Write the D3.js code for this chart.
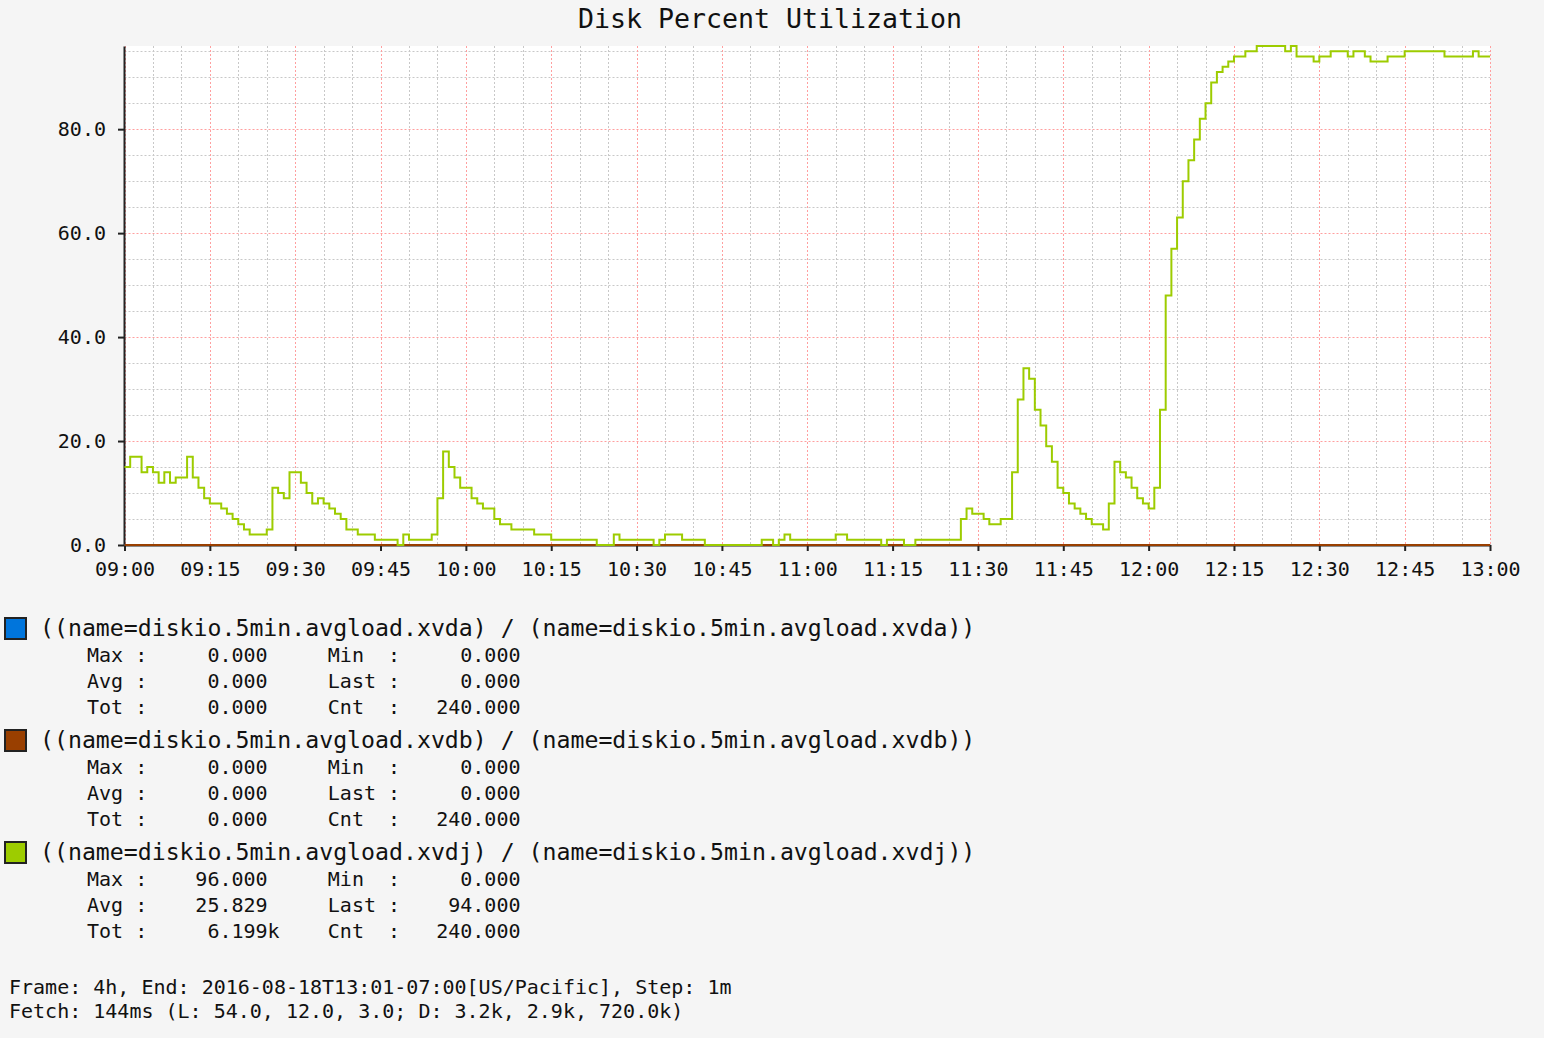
<!DOCTYPE html>
<html><head><meta charset="utf-8">
<script src="https://cdn.jsdelivr.net/npm/d3@7"></script>
<style>
html,body{margin:0;padding:0;background:#f5f5f5;}
svg{display:block;}
text{font-family:"DejaVu Sans Mono",monospace;fill:#111;white-space:pre;}
</style></head><body>
<svg id="chart" width="1544" height="1038"></svg>
<script>
// ---------------- data ----------------
const chartTitle = "Disk Percent Utilization";
const startTime = new Date(2016, 7, 18, 9, 0);
const endTime = new Date(2016, 7, 18, 13, 0);
const stepMinutes = 1;
const yTickValues = [0, 20, 40, 60, 80];
const yDomainMax = 96;

const seriesNames = [
  "((name=diskio.5min.avgload.xvda) / (name=diskio.5min.avgload.xvda))",
  "((name=diskio.5min.avgload.xvdb) / (name=diskio.5min.avgload.xvdb))",
  "((name=diskio.5min.avgload.xvdj) / (name=diskio.5min.avgload.xvdj))"
];
const seriesColors = ["#0075DC", "#993F00", "#9DCC00"];

const xvda = [
  0,0,0,0,0,0,0,0,0,0,0,0,0,0,0,0,0,0,0,0,0,0,0,0,
  0,0,0,0,0,0,0,0,0,0,0,0,0,0,0,0,0,0,0,0,0,0,0,0,
  0,0,0,0,0,0,0,0,0,0,0,0,0,0,0,0,0,0,0,0,0,0,0,0,
  0,0,0,0,0,0,0,0,0,0,0,0,0,0,0,0,0,0,0,0,0,0,0,0,
  0,0,0,0,0,0,0,0,0,0,0,0,0,0,0,0,0,0,0,0,0,0,0,0,
  0,0,0,0,0,0,0,0,0,0,0,0,0,0,0,0,0,0,0,0,0,0,0,0,
  0,0,0,0,0,0,0,0,0,0,0,0,0,0,0,0,0,0,0,0,0,0,0,0,
  0,0,0,0,0,0,0,0,0,0,0,0,0,0,0,0,0,0,0,0,0,0,0,0,
  0,0,0,0,0,0,0,0,0,0,0,0,0,0,0,0,0,0,0,0,0,0,0,0,
  0,0,0,0,0,0,0,0,0,0,0,0,0,0,0,0,0,0,0,0,0,0,0,0
];
const xvdb = [
  0,0,0,0,0,0,0,0,0,0,0,0,0,0,0,0,0,0,0,0,0,0,0,0,
  0,0,0,0,0,0,0,0,0,0,0,0,0,0,0,0,0,0,0,0,0,0,0,0,
  0,0,0,0,0,0,0,0,0,0,0,0,0,0,0,0,0,0,0,0,0,0,0,0,
  0,0,0,0,0,0,0,0,0,0,0,0,0,0,0,0,0,0,0,0,0,0,0,0,
  0,0,0,0,0,0,0,0,0,0,0,0,0,0,0,0,0,0,0,0,0,0,0,0,
  0,0,0,0,0,0,0,0,0,0,0,0,0,0,0,0,0,0,0,0,0,0,0,0,
  0,0,0,0,0,0,0,0,0,0,0,0,0,0,0,0,0,0,0,0,0,0,0,0,
  0,0,0,0,0,0,0,0,0,0,0,0,0,0,0,0,0,0,0,0,0,0,0,0,
  0,0,0,0,0,0,0,0,0,0,0,0,0,0,0,0,0,0,0,0,0,0,0,0,
  0,0,0,0,0,0,0,0,0,0,0,0,0,0,0,0,0,0,0,0,0,0,0,0
];
const xvdj = [
  15,17,17,14,15,14,12,14,12,13,
  13,17,13,11,9,8,8,7,6,5,
  4,3,2,2,2,3,11,10,9,14,
  14,12,10,8,9,8,7,6,5,3,
  3,2,2,2,1,1,1,1,0,2,
  1,1,1,1,2,9,18,15,13,11,
  11,9,8,7,7,5,4,4,3,3,
  3,3,2,2,2,1,1,1,1,1,
  1,1,1,0,0,0,2,1,1,1,
  1,1,1,0,1,2,2,2,1,1,
  1,1,0,0,0,0,0,0,0,0,
  0,0,1,1,0,1,2,1,1,1,
  1,1,1,1,1,2,2,1,1,1,
  1,1,1,0,1,1,1,0,0,1,
  1,1,1,1,1,1,1,5,7,6,
  6,5,4,4,5,5,14,28,34,32,
  26,23,19,16,11,10,8,7,6,5,
  4,4,3,8,16,14,13,11,9,8,
  7,11,26,48,57,63,70,74,78,82,
  85,89,91,92,93,94,94,95,95,96,
  96,96,96,96,95,96,94,94,94,93,
  94,94,95,95,95,94,95,95,94,93,
  93,93,94,94,94,95,95,95,95,95,
  95,95,94,94,94,94,94,95,94,94
];
const seriesValues = [xvda, xvdb, xvdj];

const statMax  = ["0.000", "0.000", "96.000"];
const statMin  = ["0.000", "0.000", "0.000"];
const statAvg  = ["0.000", "0.000", "25.829"];
const statLast = ["0.000", "0.000", "94.000"];
const statTot  = ["0.000", "0.000", "6.199k"];
const statCnt  = ["240.000", "240.000", "240.000"];

const footerLines = [
  "Frame: 4h, End: 2016-08-18T13:01-07:00[US/Pacific], Step: 1m",
  "Fetch: 144ms (L: 54.0, 12.0, 3.0; D: 3.2k, 2.9k, 720.0k)"
];

// ---------------- drawing ----------------
const svg = d3.select("#chart");
const W = 1544, H = 1038;
const plot = {left: 124.5, right: 1490, top: 46, bottom: 545};

svg.append("rect").attr("width", W).attr("height", H).attr("fill", "#f5f5f5");

const x = d3.scaleTime().domain([startTime, endTime]).range([plot.left, plot.right]);
const y = d3.scaleLinear().domain([0, yDomainMax]).range([plot.bottom, plot.top]);

svg.append("rect")
  .attr("x", plot.left).attr("y", plot.top)
  .attr("width", plot.right - plot.left).attr("height", plot.bottom - plot.top)
  .attr("fill", "#ffffff");

// title
svg.append("text")
  .attr("x", 770).attr("y", 28)
  .attr("text-anchor", "middle")
  .attr("font-size", 26)
  .attr("textLength", 384).attr("lengthAdjust", "spacingAndGlyphs")
  .text(chartTitle);

// grid
const grid = svg.append("g");
const minorX = d3.timeMinute.every(5).range(startTime, d3.timeMinute.offset(endTime, 1))
  .filter(d => d.getMinutes() % 15 !== 0);
const majorX = d3.timeMinute.every(15).range(startTime, d3.timeMinute.offset(endTime, 1));
const minorY = y.ticks(96 / 5).filter(v => v % 20 !== 0 && v > 0);
const majorY = yTickValues.filter(v => v > 0);

grid.selectAll("line.mx").data(minorX).join("line")
  .attr("x1", d => Math.round(x(d)) + 0.5).attr("x2", d => Math.round(x(d)) + 0.5)
  .attr("y1", plot.top).attr("y2", plot.bottom)
  .attr("stroke", "#c8c8c8").attr("stroke-width", 1).attr("stroke-dasharray", "2,2");
grid.selectAll("line.my").data(minorY).join("line")
  .attr("x1", plot.left).attr("x2", plot.right)
  .attr("y1", d => Math.round(y(d)) + 0.5).attr("y2", d => Math.round(y(d)) + 0.5)
  .attr("stroke", "#c8c8c8").attr("stroke-width", 1).attr("stroke-dasharray", "2,2");
grid.selectAll("line.Mx").data(majorX).join("line")
  .attr("x1", d => Math.round(x(d)) + 0.5).attr("x2", d => Math.round(x(d)) + 0.5)
  .attr("y1", plot.top).attr("y2", plot.bottom)
  .attr("stroke", "#ff9f9f").attr("stroke-width", 1).attr("stroke-dasharray", "2,2");
grid.selectAll("line.My").data(majorY).join("line")
  .attr("x1", plot.left).attr("x2", plot.right)
  .attr("y1", d => Math.round(y(d)) + 0.5).attr("y2", d => Math.round(y(d)) + 0.5)
  .attr("stroke", "#ff9f9f").attr("stroke-width", 1).attr("stroke-dasharray", "2,2");

// axes
const xAxis = d3.axisBottom(x)
  .ticks(d3.timeMinute.every(15))
  .tickFormat(d3.timeFormat("%H:%M"))
  .tickSize(6).tickPadding(11).tickSizeOuter(0);
const gx = svg.append("g").attr("transform", `translate(0,${plot.bottom})`).call(xAxis);
gx.selectAll("text").attr("font-size", 20).attr("font-family", "DejaVu Sans Mono").attr("fill", "#111");
gx.selectAll("line").attr("stroke", "#222").attr("stroke-width", 2);
gx.select(".domain").attr("stroke", "#222").attr("stroke-width", 2);

const yAxis = d3.axisLeft(y)
  .tickValues(yTickValues)
  .tickFormat(d3.format(".1f"))
  .tickSize(6).tickPadding(12).tickSizeOuter(0);
const gy = svg.append("g").attr("transform", `translate(${plot.left - 0.5},0)`).call(yAxis);
gy.selectAll("text").attr("font-size", 20).attr("font-family", "DejaVu Sans Mono").attr("fill", "#111");
gy.selectAll("line").attr("stroke", "#222").attr("stroke-width", 2);
gy.select(".domain").attr("stroke", "#222").attr("stroke-width", 2);

// series (step lines)
const line = d3.line()
  .x(d => x(d.t)).y(d => y(d.v))
  .curve(d3.curveStepAfter);

seriesValues.forEach((vals, si) => {
  const pts = vals.map((v, i) => ({t: d3.timeMinute.offset(startTime, i * stepMinutes), v}));
  pts.push({t: d3.timeMinute.offset(startTime, vals.length * stepMinutes), v: vals[vals.length - 1]});
  svg.append("path")
    .datum(pts)
    .attr("d", line)
    .attr("fill", "none")
    .attr("stroke", seriesColors[si])
    .attr("stroke-width", 2)
    .attr("stroke-linejoin", "miter");
});

// legend
function fmtVal(v) {
  return v.endsWith("k") ? v.slice(0, -1).padStart(10) + "k" : v.padStart(10);
}
function statRow(l1, v1, l2, v2) {
  return (l1 + fmtVal(v1)).padEnd(20) + l2 + fmtVal(v2);
}
const legend = svg.append("g");
seriesNames.forEach((name, i) => {
  const base = 628 + 112 * i;
  legend.append("rect")
    .attr("x", 5).attr("y", base - 10)
    .attr("width", 21).attr("height", 21)
    .attr("fill", seriesColors[i])
    .attr("stroke", "#222").attr("stroke-width", 2);
  legend.append("text")
    .attr("x", 40).attr("y", base + 8)
    .attr("font-size", 23.2)
    .text(name);
  const rows = [
    statRow("Max :", statMax[i], "Min  :", statMin[i]),
    statRow("Avg :", statAvg[i], "Last :", statLast[i]),
    statRow("Tot :", statTot[i], "Cnt  :", statCnt[i])
  ];
  rows.forEach((r, j) => {
    legend.append("text")
      .attr("x", 87).attr("y", base + 34 + 26 * j)
      .attr("font-size", 20)
      .text(r);
  });
});

// footer
footerLines.forEach((t, i) => {
  svg.append("text")
    .attr("x", 9).attr("y", 994 + 24 * i)
    .attr("font-size", 20)
    .text(t);
});
</script>
</body></html>
